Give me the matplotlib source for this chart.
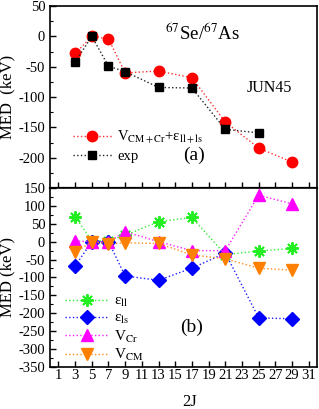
import matplotlib
matplotlib.use("Agg")
import matplotlib.pyplot as plt
from matplotlib.ticker import MultipleLocator

plt.rcParams["font.family"] = "Liberation Serif"
plt.rcParams["mathtext.fontset"] = "stix"
plt.rcParams["axes.unicode_minus"] = False
plt.rcParams["font.size"] = 10.5

# panel (a) data
x_calc = [3, 5, 7, 9, 13, 17, 21, 25, 29]
med_calc = [-28, 0, -4, -60, -57, -68, -141, -184, -207]
x_exp = [3, 5, 7, 9, 13, 17, 21, 25]
med_exp = [-42, 0, -49, -58, -84, -85, -153, -159]

# panel (b) data
x_b = [3, 5, 7, 9, 13, 17, 21, 25, 29]
eps_ll = [70, 3, 3, 18, 56, 68, -36, -26, -19]
eps_ls = [-68, 0, 0, -96, -108, -74, -32, -213, -216]
v_cr = [2, 0, 0, 28, 0, -25, -25, 130, 106]
v_cm = [-30, 0, -6, -3, -5, -37, -48, -74, -80]

xticks = list(range(1, 32, 2))

fig = plt.figure(figsize=(3.19, 4.09), dpi=100)
axa = fig.add_axes([0.157, 0.540, 0.837, 0.445])
axb = fig.add_axes([0.157, 0.1034, 0.837, 0.4366])

# panel (a)
axa.plot(x_calc, med_calc, ls=':', color='#ff3030', lw=1.0, marker='o', ms=7.5,
         mfc='red', mec='red', label=r'V$_{\rm CM+Cr}$+ε$_{\rm ll+ls}$')
axa.plot(x_exp, med_exp, ls=':', color='#222222', lw=1.0, marker='s', ms=6,
         mfc='black', mec='black', label='exp')
axa.set_xlim(0, 32)
axa.set_ylim(-250, 50)
axa.set_xticks(xticks)
axa.set_xticklabels([])
axa.set_yticks(range(-200, 51, 50))
axa.yaxis.set_minor_locator(MultipleLocator(25))
axa.set_ylabel('MED  (keV)', fontsize=12, labelpad=2)
axa.text(18.3, 6, r'$^{67}$Se/$^{67}$As', fontsize=13.5, ha='center', va='center')
axa.text(26.3, -85, 'JUN45', fontsize=11.5, ha='center', va='center')
axa.text(17.3, -196, '(a)', fontsize=14, ha='center', va='center')
axa.legend(loc='upper left', bbox_to_anchor=(0.085, 0.327), frameon=False,
           numpoints=1, handlelength=2.7, handletextpad=0.35, labelspacing=0.3,
           borderpad=0, borderaxespad=0, fontsize=10.5)

# panel (b)
axb.plot(x_b, eps_ll, ls=':', color='#33ee33', lw=1.0, marker=(8, 2, 0), ms=9,
         mew=1.4, mec='#22ee22', label='ε$_{\\rm ll}$')
axb.plot(x_b, eps_ls, ls=':', color='#2020ff', lw=1.0, marker='D', ms=7,
         mfc='#0000ff', mec='#0000ff', label='ε$_{\\rm ls}$')
axb.plot(x_b, v_cr, ls=':', color='#ff22ff', lw=1.0, marker='^', ms=8.5,
         mfc='#ff00ff', mec='#ff00ff', label='V$_{\\rm Cr}$')
axb.plot(x_b, v_cm, ls=':', color='#ff8c1a', lw=1.0, marker='v', ms=8.5,
         mfc='#ff8000', mec='#ff8000', label='V$_{\\rm CM}$')
axb.set_xlim(0, 32)
axb.set_ylim(-350, 150)
axb.set_xticks(xticks)
axb.set_yticks(range(-350, 151, 50))
axb.yaxis.set_minor_locator(MultipleLocator(25))
axb.set_ylabel('MED (keV)', fontsize=12, labelpad=2)
axb.set_xlabel('2J', fontsize=12)
axb.xaxis.set_label_coords(0.524, -0.152)
axb.text(17.0, -239, '(b)', fontsize=14, ha='center', va='center')
axb.legend(loc='upper left', bbox_to_anchor=(0.055, 0.405), frameon=False,
           numpoints=1, handlelength=2.9, handletextpad=0.3, labelspacing=0.15,
           borderpad=0, borderaxespad=0, fontsize=11)

for ax in (axa, axb):
    ax.tick_params(which='both', direction='in', top=False, right=False)
    ax.tick_params(which='major', length=4, width=1)
    ax.tick_params(which='minor', length=2.5, width=0.8)
    ax.tick_params(axis='x', pad=2)
    for s in ax.spines.values():
        s.set_linewidth(1.2)
axa.spines['bottom'].set_linewidth(1.6)

fig.savefig('out.png', dpi=100)
